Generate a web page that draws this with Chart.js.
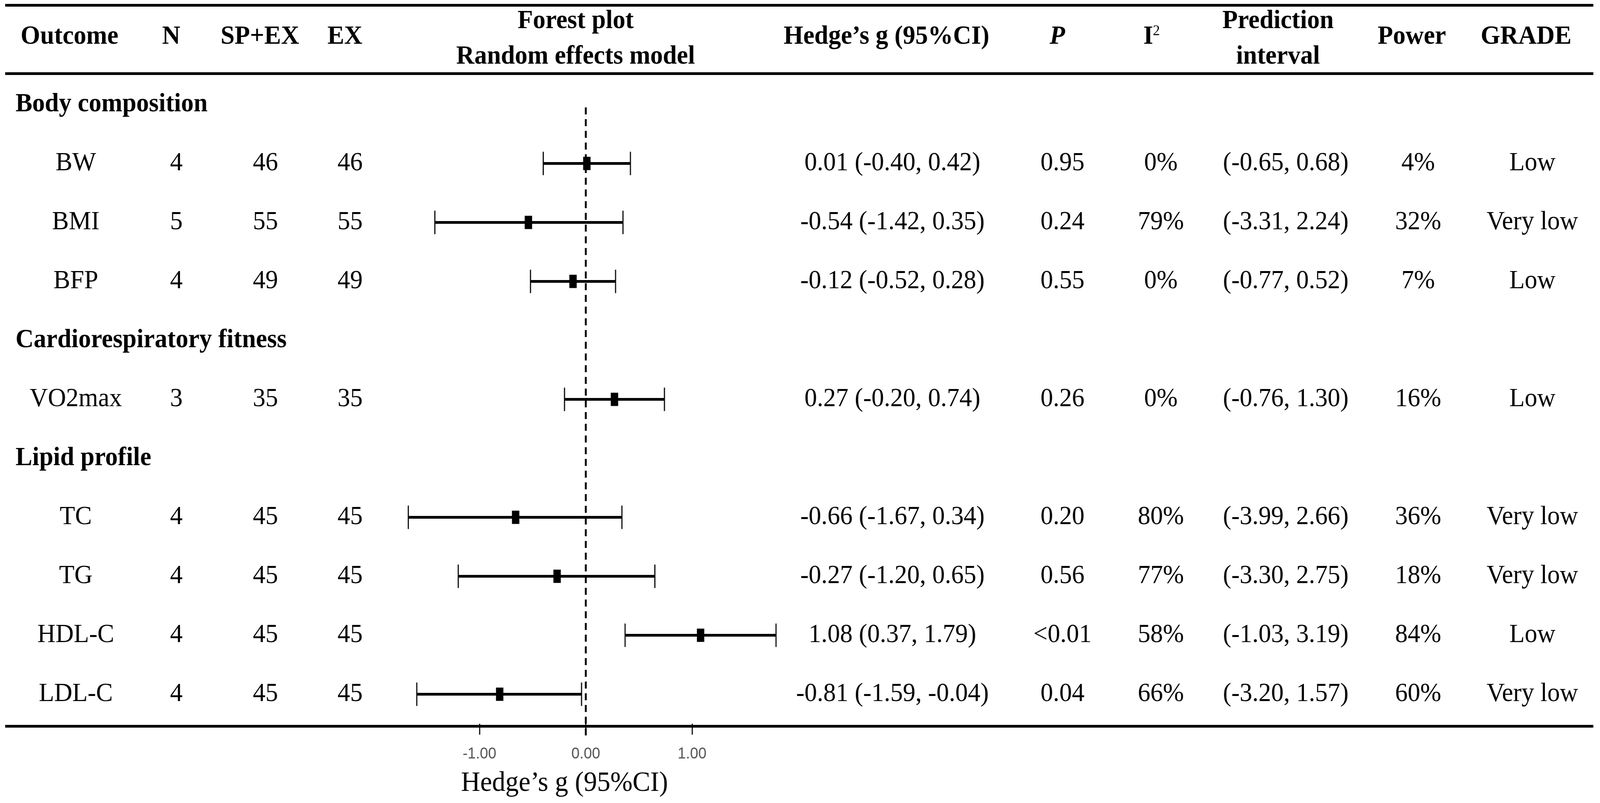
<!DOCTYPE html>
<html>
<head>
<meta charset="utf-8">
<title>Forest plot</title>
<script src="https://cdn.jsdelivr.net/npm/chart.js@4.4.1/dist/chart.umd.min.js"></script>
<style>
  html, body { margin: 0; padding: 0; background: #fff; overflow: hidden; }
  #caja { overflow: hidden; }
  #marco { width: 4328px; height: 2056px; transform-origin: 0 0; }
  canvas { display: block; }
</style>
</head>
<body>
<div id="caja"><div id="marco"><canvas id="grafico" width="4328" height="2056"></canvas></div></div>
<script>
// rows of the table (group headings + outcomes), top to bottom
const rowLabels = ['Body composition', 'BW', 'BMI', 'BFP', 'Cardiorespiratory fitness', 'VO2max',
  'Lipid profile', 'TC', 'TG', 'HDL-C', 'LDL-C'];
const groupHeadings = ['Body composition', 'Cardiorespiratory fitness', 'Lipid profile'];

const outcomes = ['BW', 'BMI', 'BFP', 'VO2max', 'TC', 'TG', 'HDL-C', 'LDL-C'];
const nStudies = [4, 5, 4, 3, 4, 4, 4, 4];
const nSpEx = [46, 55, 49, 35, 45, 45, 45, 45];
const nEx = [46, 55, 49, 35, 45, 45, 45, 45];
const hedgesG = [0.01, -0.54, -0.12, 0.27, -0.66, -0.27, 1.08, -0.81];
const ciLow = [-0.40, -1.42, -0.52, -0.20, -1.67, -1.20, 0.37, -1.59];
const ciHigh = [0.42, 0.35, 0.28, 0.74, 0.34, 0.65, 1.79, -0.04];
const pValues = ['0.95', '0.24', '0.55', '0.26', '0.20', '0.56', '<0.01', '0.04'];
const iSquared = ['0%', '79%', '0%', '0%', '80%', '77%', '58%', '66%'];
const predLow = [-0.65, -3.31, -0.77, -0.76, -3.99, -3.30, -1.03, -3.20];
const predHigh = [0.68, 2.24, 0.52, 1.30, 2.66, 2.75, 3.19, 1.57];
const power = ['4%', '32%', '7%', '16%', '36%', '18%', '84%', '60%'];
const grade = ['Low', 'Very low', 'Low', 'Low', 'Very low', 'Very low', 'Low', 'Very low'];
const tickValues = [-1, 0, 1];

const serif = '"Liberation Serif", "Times New Roman", serif';
const f2 = v => v.toFixed(2);

// stretch the 4328x2056 drawing over the whole window
const sx = window.innerWidth / 4328;
const sy = window.innerHeight / 2056;
const caja = document.getElementById('caja');
caja.style.width = window.innerWidth + 'px';
caja.style.height = window.innerHeight + 'px';
document.getElementById('marco').style.transform = `scale(${sx}, ${sy})`;

// column centres for the body rows
const colX = { label: 205, n: 477, spex: 718, ex: 947, g: 2414, p: 2874, i2: 3140, pi: 3478, power: 3836, grade: 4145 };

const tablePlugin = {
  id: 'tabla',
  beforeDatasetsDraw(chart) {
    const ctx = chart.ctx;
    const x0 = chart.scales.x.getPixelForValue(0);
    ctx.save();
    ctx.strokeStyle = '#000';
    ctx.lineWidth = 5;
    ctx.setLineDash([18, 12]);
    ctx.beginPath();
    ctx.moveTo(x0, 275);
    ctx.lineTo(x0, 1884);
    ctx.stroke();
    ctx.restore();
  },
  afterDraw(chart) {
    const ctx = chart.ctx;
    const ys = chart.scales.y;
    ctx.save();
    ctx.fillStyle = '#000';
    ctx.textBaseline = 'middle';

    // rules
    ctx.fillRect(14, 10, 4296, 7);
    ctx.fillRect(14, 185, 4296, 7);
    ctx.fillRect(14, 1856, 4296, 7);

    // header
    ctx.font = 'bold 68px ' + serif;
    ctx.textAlign = 'center';
    const head = [['Outcome', 188, 94], ['N', 463, 94], ['SP+EX', 703, 94], ['EX', 933, 94],
      ['Forest plot', 1557, 54], ['Random effects model', 1557, 145],
      ['Hedge’s g (95%CI)', 2398, 94], ['Prediction', 3457, 54], ['interval', 3457, 145],
      ['Power', 3819, 94], ['GRADE', 4128, 94]];
    head.forEach(h => ctx.fillText(h[0], h[1], h[2]));
    ctx.font = 'bold italic 68px ' + serif;
    ctx.fillText('P', 2860, 94);
    ctx.font = 'bold 68px ' + serif;
    ctx.fillText('I', 3106, 94);
    ctx.font = '38px ' + serif;
    ctx.fillText('2', 3128, 80);

    // group headings
    ctx.font = 'bold 68px ' + serif;
    ctx.textAlign = 'left';
    groupHeadings.forEach(g => ctx.fillText(g, 42, ys.getPixelForValue(rowLabels.indexOf(g))));

    // outcome rows
    ctx.font = '68px ' + serif;
    ctx.textAlign = 'center';
    outcomes.forEach((o, i) => {
      const y = ys.getPixelForValue(rowLabels.indexOf(o));
      ctx.fillText(o, colX.label, y);
      ctx.fillText(String(nStudies[i]), colX.n, y);
      ctx.fillText(String(nSpEx[i]), colX.spex, y);
      ctx.fillText(String(nEx[i]), colX.ex, y);
      ctx.fillText(`${f2(hedgesG[i])} (${f2(ciLow[i])}, ${f2(ciHigh[i])})`, colX.g, y);
      ctx.fillText(pValues[i], colX.p, y);
      ctx.fillText(iSquared[i], colX.i2, y);
      ctx.fillText(`(${f2(predLow[i])}, ${f2(predHigh[i])})`, colX.pi, y);
      ctx.fillText(power[i], colX.power, y);
      ctx.fillText(grade[i], colX.grade, y);
    });
    ctx.restore();
  }
};

// one line per confidence interval
const ciDatasets = outcomes.map((o, i) => ({
  data: [{ x: ciLow[i], y: o }, { x: ciHigh[i], y: o }],
  showLine: true,
  borderColor: '#000',
  borderWidth: 7,
  pointRadius: 0
}));

const ctx = document.getElementById('grafico').getContext('2d');
const grafico = new Chart(ctx, {
  type: 'scatter',
  data: {
    datasets: [
      ...ciDatasets,
      {
        // end caps
        data: outcomes.flatMap((o, i) => [{ x: ciLow[i], y: o }, { x: ciHigh[i], y: o }]),
        pointStyle: 'line',
        pointRotation: 90,
        pointRadius: 30,
        pointBorderWidth: 3,
        pointBorderColor: '#000'
      },
      {
        // point estimates
        data: outcomes.map((o, i) => ({ x: hedgesG[i], y: o })),
        pointStyle: 'line',
        pointRotation: 90,
        pointRadius: 17,
        pointBorderWidth: 20,
        pointBorderColor: '#000'
      }
    ]
  },
  options: {
    responsive: false,
    animation: false,
    devicePixelRatio: 1,
    layout: { padding: { left: 952, right: 2226, top: 192, bottom: 0 } },
    plugins: { legend: { display: false }, tooltip: { enabled: false } },
    scales: {
      x: {
        type: 'linear',
        min: -2.2,
        max: 1.8,
        afterBuildTicks: s => { s.ticks = tickValues.map(v => ({ value: v })); },
        afterFit: s => { s.height = 203; },
        border: { display: false },
        grid: { drawOnChartArea: false, drawTicks: true, tickLength: 28, color: '#000', lineWidth: 3 },
        ticks: {
          callback: v => f2(v),
          font: { family: '"Liberation Sans", Arial, sans-serif', size: 40 },
          color: '#555',
          padding: 26,
          maxRotation: 0
        },
        title: {
          display: true,
          text: 'Hedge’s g (95%CI)',
          font: { family: serif, size: 72, lineHeight: 1 },
          color: '#000',
          padding: { top: 0, bottom: 14 }
        }
      },
      y: {
        type: 'category',
        labels: rowLabels,
        offset: true,
        display: false
      }
    }
  },
  plugins: [tablePlugin]
});
</script>
</body>
</html>
